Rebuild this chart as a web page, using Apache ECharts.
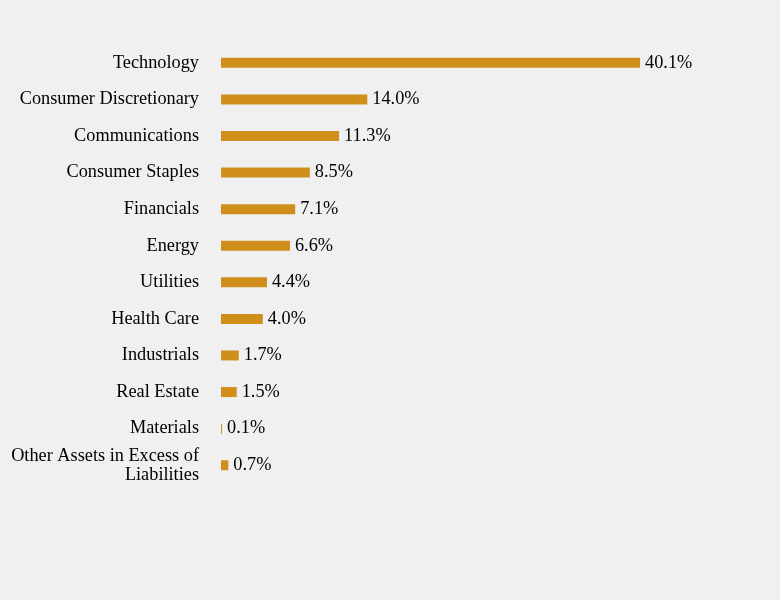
<!DOCTYPE html>
<html>
<head>
<meta charset="utf-8">
<script src="https://cdn.jsdelivr.net/npm/echarts@6/dist/echarts.min.js"></script>
<style>
  html, body { margin: 0; padding: 0; background: #f0f0f0; }
  #sectorChart { width: 780px; height: 600px; }
</style>
</head>
<body>
<div id="sectorChart"></div>
<script>
// sector weights, top to bottom
var sectors = [
  "Technology",
  "Consumer Discretionary",
  "Communications",
  "Consumer Staples",
  "Financials",
  "Energy",
  "Utilities",
  "Health Care",
  "Industrials",
  "Real Estate",
  "Materials",
  "Other Assets in Excess of\nLiabilities"
];
var weights = [40.1, 14.0, 11.3, 8.5, 7.1, 6.6, 4.4, 4.0, 1.7, 1.5, 0.1, 0.7];

var chart = echarts.init(document.getElementById("sectorChart"));
var options = {
  backgroundColor: "#f0f0f0",
  textStyle: { fontFamily: "Liberation Serif" },
  grid: {
    left: 221,
    width: 522.5,
    top: 44.5,
    bottom: 116.5,
    containLabel: false
  },
  xAxis: {
    type: "value",
    min: 0,
    max: 50,
    show: false
  },
  yAxis: {
    type: "category",
    inverse: true,
    data: sectors,
    axisLine: { show: false },
    axisTick: { show: false },
    splitLine: { show: false },
    axisLabel: {
      color: "#000",
      fontSize: 18.3,
      fontFamily: "Liberation Serif",
      margin: 22,
      align: "right",
      lineHeight: 19
    }
  },
  series: [
    {
      type: "bar",
      data: weights,
      barWidth: 10,
      itemStyle: { color: "#d08f1a" },
      label: {
        show: true,
        position: "right",
        distance: 5,
        color: "#000",
        fontSize: 18.3,
        fontFamily: "Liberation Serif",
        formatter: function (p) {
          return p.value.toFixed(1) + "%";
        }
      },
      animation: false
    }
  ]
};
chart.setOption(options);
</script>
</body>
</html>
